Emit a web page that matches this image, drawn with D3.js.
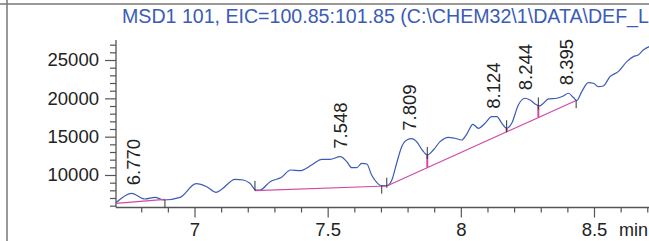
<!DOCTYPE html>
<html>
<head>
<meta charset="utf-8">
<script src="https://cdn.jsdelivr.net/npm/d3@7"></script>
<style>
  body { margin: 0; background: #fff; }
  svg { display: block; font-family: "Liberation Sans", Arial, sans-serif; }
</style>
</head>
<body>
<svg id="chart" width="649" height="241"></svg>
<script>
// chromatogram trace (min, abundance)
let times = [6.705, 6.764, 6.814, 6.852, 6.883, 6.946, 7.006, 7.046, 7.081, 7.102, 7.152, 7.183, 7.208, 7.231, 7.246,
  7.284, 7.327, 7.361, 7.396, 7.440, 7.478, 7.509, 7.547, 7.572, 7.590, 7.609, 7.628, 7.647, 7.665, 7.684, 7.703,
  7.722, 7.741, 7.759, 7.778, 7.797, 7.816, 7.834, 7.853, 7.874, 7.897, 7.922, 7.953, 7.978, 8.003, 8.024, 8.045,
  8.066, 8.091, 8.116, 8.135, 8.154, 8.172, 8.191, 8.216, 8.241, 8.260, 8.279, 8.295, 8.310, 8.329, 8.360, 8.385,
  8.404, 8.422, 8.435, 8.454, 8.479, 8.498, 8.516, 8.535, 8.560, 8.591, 8.623, 8.648, 8.666, 8.685, 8.710]
let abundance = [6385, 7612, 6868, 7090, 6738, 7090, 8865, 8473, 7742, 8134, 9439, 9348, 8917, 8043, 8043,
  9126, 9700, 10653, 10561, 11305, 12049, 12049, 12388, 11736, 10953, 10953, 11527, 11436, 10000, 9047, 8604,
  8604, 9348, 11527, 13693, 14568, 14737, 14346, 13354, 12610, 13263, 14346, 14920, 14789, 14568, 15442, 16616,
  16094, 16747, 17608, 17608, 16747, 16094, 16747, 19135, 20009, 19788, 19266, 19005, 19357, 19918, 20009, 20310,
  20662, 20140, 19696, 20871, 22045, 21967, 21523, 21615, 22829, 23481, 24786, 25438, 25660, 26313, 26780]

// integrated peaks
let peakTimes = [6.770, 7.548, 7.809, 8.124, 8.244, 8.395]
let peakApex = [7612, 12388, 14737, 17608, 20009, 20662]

// baseline segments [t0, v0, t1, v1]
let baseSegs = [
  [6.705, 6300, 6.889, 6830],
  [7.227, 7950, 7.722, 8565],
  [7.722, 8565, 8.433, 19720]
]
// peak boundaries and their kind
let bndTimes = [6.889, 7.227, 7.703, 7.722, 7.874, 8.172, 8.291, 8.433]
let bndKind = ["end", "start", "end", "start", "split", "split", "split", "end"]

let xMajor = [7, 7.5, 8, 8.5]
let yMajor = [10000, 15000, 20000, 25000]

// the signal title, cut at the right edge like in the original
let title = "MSD1 101, EIC=100.85:101.85 (C:\\CHEM32\\1\\DATA\\DEF_L"

var svg = d3.select("#chart")
var blue = "#3b5bb8", pink = "#d04aa6", axc = "#555"

var x = d3.scaleLinear().domain([7, 8.5]).range([194.5, 594])
var y = d3.scaleLinear().domain([5760, 27610]).range([207.5, 40])

// frame
svg.append("line").attr("x1", 0).attr("x2", 649).attr("y1", 4).attr("y2", 4)
  .attr("stroke", "#777").attr("stroke-width", 1.5)
svg.append("line").attr("x1", 7).attr("x2", 7).attr("y1", 0).attr("y2", 241)
  .attr("stroke", "#777").attr("stroke-width", 1.5)

svg.append("text").attr("x", 122).attr("y", 23.3)
  .attr("fill", blue).style("font-size", "19.6px").text(title)

// axes
var minorX = d3.range(6.8, 8.75, 0.1).map(d => +d.toFixed(1)).filter(d => xMajor.indexOf(d) < 0)
var gx = svg.append("g").attr("transform", "translate(0,207.5)")
gx.call(d3.axisBottom(x).tickValues(minorX).tickSize(5).tickFormat(""))
gx.select(".domain").remove()
var gx2 = svg.append("g").attr("transform", "translate(0,207.5)")
gx2.call(d3.axisBottom(x).tickValues(xMajor).tickSize(10).tickPadding(5.5).tickFormat(d => d))
gx2.select(".domain").remove()
svg.append("line").attr("x1", 116).attr("x2", 649).attr("y1", 207.5).attr("y2", 207.5)
  .attr("stroke", axc).attr("stroke-width", 1.3)

var minorY = d3.range(6000, 27001, 1000).filter(d => yMajor.indexOf(d) < 0)
var gy = svg.append("g").attr("transform", "translate(116,0)")
gy.call(d3.axisLeft(y).tickValues(minorY).tickSize(6).tickFormat(""))
gy.select(".domain").remove()
var gy2 = svg.append("g").attr("transform", "translate(116,0)")
gy2.call(d3.axisLeft(y).tickValues(yMajor).tickSize(11).tickPadding(6).tickFormat(d => d))
gy2.select(".domain").remove()
svg.append("line").attr("x1", 116).attr("x2", 116).attr("y1", 40).attr("y2", 207.5)
  .attr("stroke", axc).attr("stroke-width", 1.3)

svg.selectAll(".tick line").attr("stroke", axc).attr("stroke-width", 1.2)
svg.selectAll(".tick text").attr("fill", "#222").style("font-size", "18.5px")
  .style("font-family", "'Liberation Sans', Arial, sans-serif")

svg.append("text").attr("x", 619).attr("y", 236.3).attr("fill", "#222")
  .style("font-size", "18px").text("min")

// trace
var pts = times.map((t, i) => [t, abundance[i]])
var line = d3.line().x(d => x(d[0])).y(d => y(d[1])).curve(d3.curveMonotoneX)
svg.append("path").datum(pts).attr("fill", "none").attr("stroke", blue)
  .attr("stroke-width", 1.2).attr("d", line)

// baselines
svg.selectAll(".base").data(baseSegs).enter().append("line").attr("class", "base")
  .attr("x1", d => x(d[0])).attr("y1", d => y(d[1]))
  .attr("x2", d => x(d[2])).attr("y2", d => y(d[3]))
  .attr("stroke", pink).attr("stroke-width", 1.2)

function traceAt(t) {
  var i = d3.bisectLeft(times, t)
  if (i <= 0) return abundance[0]
  var f = (t - times[i - 1]) / (times[i] - times[i - 1])
  return abundance[i - 1] + f * (abundance[i] - abundance[i - 1])
}
function baseAt(t) {
  for (let s of baseSegs) {
    if (t >= s[0] - 1e-6 && t <= s[2] + 1e-6) return s[1] + (t - s[0]) / (s[2] - s[0]) * (s[3] - s[1])
  }
  return null
}

// drop lines and boundary ticks
bndTimes.forEach(function(t, i) {
  var k = bndKind[i]
  var yt = y(traceAt(t))
  var b = baseAt(t)
  if (k == "split" && b != null && y(b) - yt > 2) {
    svg.append("line").attr("x1", x(t)).attr("x2", x(t)).attr("y1", yt).attr("y2", y(b))
      .attr("stroke", pink).attr("stroke-width", 2)
  }
  var y1 = yt - 8, y2 = yt + 2
  if (k == "end") { y1 = yt; y2 = yt + 8 }
  if (k == "split") { y1 = yt - 8; y2 = yt + 4 }
  if (i == 0) { y1 = yt; y2 = 207.5 }
  svg.append("line").attr("x1", x(t)).attr("x2", x(t)).attr("y1", y1).attr("y2", y2)
    .attr("stroke", "#333").attr("stroke-width", 1)
})

// peak labels
svg.selectAll(".plab").data(peakTimes).enter().append("text").attr("class", "plab")
  .attr("transform", (d, i) => "translate(" + x(d) + "," + (y(peakApex[i]) - 8) + ") rotate(-90)")
  .attr("dy", "0.35em").attr("fill", "#222").style("font-size", "18.5px")
  .text(d => d.toFixed(3))
</script>
</body>
</html>
